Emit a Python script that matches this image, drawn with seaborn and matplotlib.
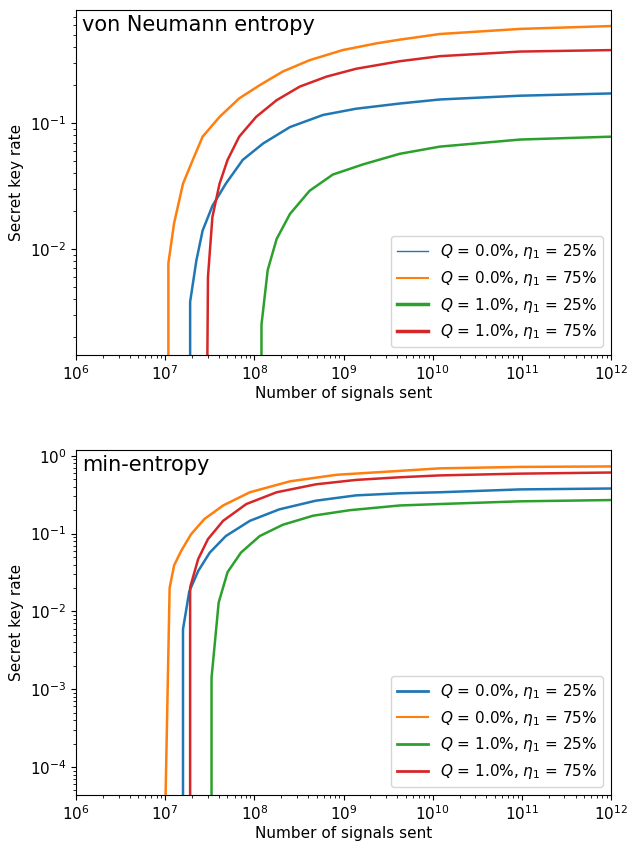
import numpy as np
import pandas as pd
import matplotlib
matplotlib.use("Agg")
import matplotlib.pyplot as plt
import seaborn as sns

# series labels
labels = [r"$Q$ = 0.0%, $\eta_1$ = 25%", r"$Q$ = 0.0%, $\eta_1$ = 75%",
          r"$Q$ = 1.0%, $\eta_1$ = 25%", r"$Q$ = 1.0%, $\eta_1$ = 75%"]
colors = ["tab:blue", "tab:orange", "tab:green", "tab:red"]

# von Neumann entropy panel (log10 N, key rate)
vn_blue_x = [7.28, 7.28, 7.35, 7.42, 7.53, 7.68, 7.87, 8.10, 8.40, 8.77, 9.14, 9.63, 10.08, 10.98, 12.0]
vn_blue_y = [1e-6, 0.0038, 0.0081, 0.014, 0.022, 0.033, 0.051, 0.069, 0.093, 0.116, 0.13, 0.143, 0.154, 0.165, 0.172]
vn_orange_x = [7.036, 7.036, 7.10, 7.20, 7.31, 7.42, 7.61, 7.83, 8.06, 8.32, 8.62, 8.99, 9.37, 9.63, 10.08, 10.98, 12.0]
vn_orange_y = [1e-6, 0.0077, 0.016, 0.033, 0.051, 0.078, 0.112, 0.157, 0.2, 0.257, 0.316, 0.38, 0.43, 0.46, 0.51, 0.56, 0.59]
vn_green_x = [8.08, 8.08, 8.15, 8.25, 8.40, 8.62, 8.88, 9.22, 9.63, 10.08, 10.98, 12.0]
vn_green_y = [1e-6, 0.0025, 0.0068, 0.012, 0.019, 0.029, 0.039, 0.047, 0.057, 0.065, 0.074, 0.078]
vn_red_x = [7.44, 7.48, 7.53, 7.61, 7.70, 7.83, 8.02, 8.25, 8.51, 8.81, 9.14, 9.63, 10.08, 10.98, 12.0]
vn_red_y = [1e-6, 0.006, 0.018, 0.033, 0.051, 0.078, 0.112, 0.152, 0.195, 0.234, 0.27, 0.31, 0.34, 0.37, 0.38]

# min-entropy panel
me_blue_x = [7.20, 7.20, 7.27, 7.37, 7.50, 7.68, 7.95, 8.28, 8.69, 9.14, 9.63, 10.08, 10.98, 12.0]
me_blue_y = [1e-7, 0.0059, 0.018, 0.033, 0.057, 0.093, 0.146, 0.205, 0.265, 0.31, 0.33, 0.34, 0.37, 0.38]
me_orange_x = [6.96, 7.05, 7.10, 7.18, 7.29, 7.44, 7.65, 7.95, 8.40, 8.92, 9.63, 10.08, 10.98, 12.0]
me_orange_y = [1e-7, 0.020, 0.039, 0.06, 0.098, 0.154, 0.23, 0.34, 0.47, 0.57, 0.64, 0.69, 0.72, 0.73]
me_green_x = [7.52, 7.52, 7.60, 7.70, 7.85, 8.06, 8.32, 8.66, 9.07, 9.63, 10.08, 10.98, 12.0]
me_green_y = [1e-7, 0.0014, 0.013, 0.032, 0.057, 0.093, 0.13, 0.17, 0.2, 0.23, 0.24, 0.26, 0.27]
me_red_x = [7.28, 7.28, 7.37, 7.48, 7.65, 7.91, 8.25, 8.69, 9.14, 9.63, 10.08, 10.98, 12.0]
me_red_y = [1e-7, 0.0204, 0.047, 0.085, 0.146, 0.24, 0.34, 0.43, 0.49, 0.53, 0.56, 0.59, 0.61]

panels = [
    ("von Neumann entropy",
     [(vn_blue_x, vn_blue_y), (vn_orange_x, vn_orange_y), (vn_green_x, vn_green_y), (vn_red_x, vn_red_y)],
     (1.44e-3, 0.79), [1.0, 1.5, 2.5, 2.5]),
    ("min-entropy",
     [(me_blue_x, me_blue_y), (me_orange_x, me_orange_y), (me_green_x, me_green_y), (me_red_x, me_red_y)],
     (4.4e-5, 1.19), [2.0, 1.5, 2.0, 2.0]),
]

fig = plt.figure(figsize=(6.28, 8.41), dpi=100)
positions = [[0.121, 0.578, 0.852, 0.410], [0.121, 0.055, 0.852, 0.410]]

for pos, (title, series, ylim, leg_lw) in zip(positions, panels):
    ax = fig.add_axes(pos)
    for (xs, ys), lab, c in zip(series, labels, colors):
        d = pd.DataFrame({"N": 10.0 ** np.array(xs), "rate": ys})
        sns.lineplot(data=d, x="N", y="rate", ax=ax, color=c, lw=1.8,
                     estimator=None, sort=False, label=lab)
    ax.set_xscale("log")
    ax.set_yscale("log")
    ax.set_xlim(1e6, 1e12)
    ax.set_ylim(*ylim)
    ax.set_xlabel("Number of signals sent", fontsize=11, labelpad=2)
    ax.set_ylabel("Secret key rate", fontsize=11)
    ax.tick_params(labelsize=11)
    ax.text(0.012, 0.985, title, transform=ax.transAxes, fontsize=15, va="top", ha="left")
    leg = ax.legend(loc="lower right", fontsize=11)
    for h, w in zip(leg.get_lines(), leg_lw):
        h.set_linewidth(w)

fig.savefig("out.png", dpi=100)
